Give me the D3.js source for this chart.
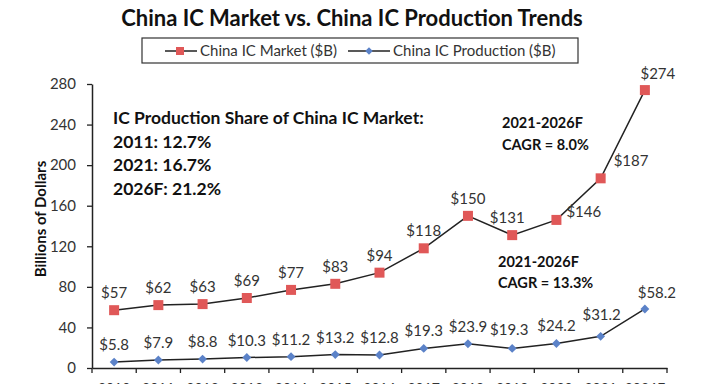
<!DOCTYPE html>
<html><head><meta charset="utf-8">
<script src="https://cdn.jsdelivr.net/npm/d3@7"></script>
<style>
body{margin:0;background:#fff;}
svg{display:block;font-family:Lato,"Open Sans",sans-serif;}
</style></head>
<body>
<svg id="c" width="705" height="384"></svg>
<script>
const years = ["2010","2011","2012","2013","2014","2015","2016","2017","2018","2019","2020","2021","2026F"];
const marketValues = [57,62,63,69,77,83,94,118,150,131,146,187,274];
const productionValues = [5.8,7.9,8.8,10.3,11.2,13.2,12.8,19.3,23.9,19.3,24.2,31.2,58.2];
const marketLabels = ["$57","$62","$63","$69","$77","$83","$94","$118","$150","$131","$146","$187","$274"];
const productionLabels = ["$5.8","$7.9","$8.8","$10.3","$11.2","$13.2","$12.8","$19.3","$23.9","$19.3","$24.2","$31.2","$58.2"];
const yTicks = [0,40,80,120,160,200,240,280];
const seriesNames = ["China IC Market ($B)","China IC Production ($B)"];
const titleText = "China IC Market vs. China IC Production Trends";
const yTitle = "Billions of Dollars";
const shareNote = ["IC Production Share of China IC Market:","2011: 12.7%","2021: 16.7%","2026F: 21.2%"];
const cagrMarket = ["2021-2026F","CAGR = 8.0%"];
const cagrProd = ["2021-2026F","CAGR = 13.3%"];

// label placement (dx, dy of text anchor relative to point, anchor)
const mPlace = i => i===9 ? [-5,-12,"middle"] : i===10 ? [10,-3,"start"] : i===11 ? [13,-12,"start"] : i===12 ? [13,-11,"middle"] : [0,-12,"middle"];
const pPlace = i => i===9 ? [-3,-13,"middle"] : i===11 ? [1,-16,"middle"] : i===12 ? [12,-11,"middle"] : [0,-12,"middle"];

const svg = d3.select("#c");
const x = d3.scaleBand().domain(years).range([92,667]);
const y = d3.scaleLinear().domain([0,280]).range([368,84]);
const cx = d => x(d) + x.bandwidth()/2;
const redC = "#e05858", blueC = "#5b82c8", lineC = "#222", textC = "#333";

// title
svg.append("text").attr("x",352).attr("y",26).attr("text-anchor","middle")
  .attr("font-size",22).attr("font-weight","bold").attr("fill","#111").text(titleText);

// legend
const lg = svg.append("g");
lg.append("rect").attr("x",142).attr("y",38).attr("width",436).attr("height",25)
  .attr("fill","#fff").attr("stroke","#333").attr("stroke-width",1.2);
lg.append("line").attr("x1",165).attr("x2",197).attr("y1",51).attr("y2",51).attr("stroke",lineC).attr("stroke-width",1.5);
lg.append("rect").attr("x",176).attr("y",47).attr("width",8).attr("height",8).attr("fill",redC);
lg.append("text").attr("x",200).attr("y",56).attr("font-size",15).attr("fill",textC).text(seriesNames[0]);
lg.append("line").attr("x1",348).attr("x2",390).attr("y1",51).attr("y2",51).attr("stroke",lineC).attr("stroke-width",1.5);
lg.append("path").attr("d",d3.symbol(d3.symbolDiamond2,36)()).attr("transform","translate(369,51)").attr("fill",blueC);
lg.append("text").attr("x",393).attr("y",56).attr("font-size",15).attr("fill",textC).text(seriesNames[1]);

// axes
const yAxis = d3.axisLeft(y).tickValues(yTicks).tickSize(5).tickSizeOuter(0);
const gy = svg.append("g").attr("transform","translate(92,0)").call(yAxis);
gy.selectAll("text").attr("font-size",15).attr("fill",textC).attr("font-family","Lato,sans-serif").attr("dx","-8");
gy.selectAll("line").attr("stroke","#222").attr("stroke-width",1.3);
gy.select(".domain").attr("stroke","#222").attr("stroke-width",1.5);

const xAxis = d3.axisBottom(x).tickSize(0);
const gx = svg.append("g").attr("transform","translate(0,368)").call(xAxis);
gx.select(".domain").attr("stroke","#222").attr("stroke-width",1.5);
gx.selectAll("text").attr("font-size",14).attr("fill",textC).attr("font-family","Lato,sans-serif").attr("dy","1.55em");
// boundary ticks
const bounds = years.map(d=>x(d)).concat([x.range()[1]]);
gx.selectAll(".bt").data(bounds).join("line").attr("class","bt")
  .attr("x1",d=>d).attr("x2",d=>d).attr("y1",0).attr("y2",5).attr("stroke","#222").attr("stroke-width",1.3);

svg.append("text").attr("transform","translate(46,219) rotate(-90)").attr("text-anchor","middle")
  .attr("font-size",15).attr("font-weight","bold").attr("fill","#111").text(yTitle);

// lines
const line = v => d3.line().x((d,i)=>cx(years[i])).y(d=>y(d))(v);
svg.append("path").attr("d",line(marketValues)).attr("fill","none").attr("stroke",lineC).attr("stroke-width",1.5);
svg.append("path").attr("d",line(productionValues)).attr("fill","none").attr("stroke",lineC).attr("stroke-width",1.5);

svg.selectAll(".mk").data(marketValues).join("rect").attr("class","mk")
  .attr("x",(d,i)=>cx(years[i])-5).attr("y",d=>y(d)-5).attr("width",10).attr("height",10).attr("fill",redC);
svg.selectAll(".pk").data(productionValues).join("path").attr("class","pk")
  .attr("d",d3.symbol(d3.symbolDiamond2,50)())
  .attr("transform",(d,i)=>`translate(${cx(years[i])},${y(d)})`).attr("fill",blueC);

// value labels
svg.selectAll(".ml").data(marketValues).join("text").attr("class","ml")
  .attr("x",(d,i)=>cx(years[i])+mPlace(i)[0]).attr("y",(d,i)=>y(d)+mPlace(i)[1])
  .attr("text-anchor",(d,i)=>mPlace(i)[2]).attr("font-size",15).attr("fill",textC)
  .text((d,i)=>marketLabels[i]);
svg.selectAll(".pl").data(productionValues).join("text").attr("class","pl")
  .attr("x",(d,i)=>cx(years[i])+pPlace(i)[0]).attr("y",(d,i)=>y(d)+pPlace(i)[1])
  .attr("text-anchor",(d,i)=>pPlace(i)[2]).attr("font-size",15).attr("fill",textC)
  .text((d,i)=>productionLabels[i]);

// annotations
svg.selectAll(".sn").data(shareNote).join("text").attr("class","sn")
  .attr("x",113).attr("y",(d,i)=>124+i*23.5).attr("font-size",17.5).attr("font-weight","bold").attr("fill","#111").text(d=>d);
svg.selectAll(".cm").data(cagrMarket).join("text").attr("class","cm")
  .attr("x",502).attr("y",(d,i)=>128+i*22).attr("font-size",14.5).attr("font-weight","bold").attr("fill","#111").text(d=>d);
svg.selectAll(".cp").data(cagrProd).join("text").attr("class","cp")
  .attr("x",498).attr("y",(d,i)=>267+i*21).attr("font-size",14.5).attr("font-weight","bold").attr("fill","#111").text(d=>d);
</script>
</body></html>
